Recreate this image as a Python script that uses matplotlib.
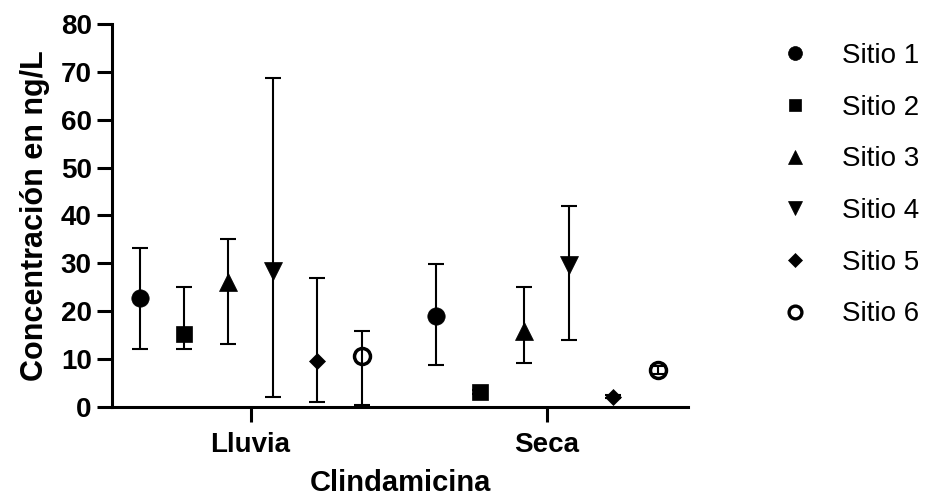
import matplotlib.pyplot as plt
from matplotlib.lines import Line2D
import numpy as np

plt.rcParams['font.family'] = ['Liberation Sans', 'DejaVu Sans']

# Clindamicina, concentración media con rango por sitio y temporada
sites = ["Sitio 1", "Sitio 2", "Sitio 3", "Sitio 4", "Sitio 5", "Sitio 6"]
seasons = ["Lluvia", "Seca"]

lluvia_mean = [22.8, 15.2, 26.1, 28.4, 9.6, 10.6]
lluvia_low = [12.1, 12.0, 13.1, 2.1, 1.0, 0.4]
lluvia_high = [33.2, 25.0, 35.0, 68.8, 26.9, 15.8]

seca_mean = [19.0, 3.1, 15.8, 29.6, 2.1, 7.7]
seca_low = [8.8, 2.6, 9.1, 14.0, 1.8, 6.8]
seca_high = [29.8, 3.6, 25.0, 42.0, 2.4, 8.6]

markers = ["o", "s", "^", "v", "D", "o"]
sizes = [12.5, 11.5, 12.5, 12.5, 8.5, 11.5]
filled = [True, True, True, True, True, False]

fig = plt.figure(figsize=(9.3, 5.04), dpi=100)
ax = fig.add_axes([0.1204, 0.193, 0.6194, 0.759])

means = np.array([lluvia_mean, seca_mean])
lows = np.array([lluvia_low, seca_low])
highs = np.array([lluvia_high, seca_high])

step = 0.15
offsets = (np.arange(len(sites)) - 2.5) * step
base = np.arange(len(seasons))

handles = []
for i, site in enumerate(sites):
    x = base + offsets[i]
    y = means[:, i]
    yerr = [y - lows[:, i], highs[:, i] - y]
    ax.errorbar(x, y, yerr=yerr, fmt="none", ecolor="black",
                elinewidth=1.5, capsize=5.5, capthick=1.5, zorder=2)
    face = "black" if filled[i] else "none"
    ax.plot(x, y, linestyle="none", marker=markers[i], markersize=sizes[i],
            markerfacecolor=face, markeredgecolor="black",
            markeredgewidth=0.5 if filled[i] else 2.5, zorder=3)
    handles.append(Line2D([], [], linestyle="none", marker=markers[i],
                          markersize=sizes[i] * 0.8,
                          markerfacecolor=face, markeredgecolor="black",
                          markeredgewidth=0.5 if filled[i] else 2.4))

ax.set_xlim(-0.468, 1.478)
ax.set_ylim(0, 80)
ax.set_yticks(np.arange(0, 81, 10))
ax.set_xticks(base)
ax.set_xticklabels(seasons)

for side in ["top", "right"]:
    ax.spines[side].set_visible(False)
for side in ["left", "bottom"]:
    ax.spines[side].set_linewidth(2.2)

ax.tick_params(axis="both", width=2.2, length=11, labelsize=20)
ax.tick_params(axis="y", pad=3.5)
ax.tick_params(axis="x", pad=7)
for lab in ax.get_xticklabels() + ax.get_yticklabels():
    lab.set_fontweight("bold")

ax.set_ylabel("Concentración en ng/L", fontsize=22, fontweight="bold", labelpad=8)
ax.set_xlabel("Clindamicina", fontsize=21, fontweight="bold", labelpad=8)

fig.legend(handles=handles, labels=sites, loc="upper left",
           bbox_to_anchor=(0.828, 0.937), frameon=False, fontsize=20,
           handlelength=1.0, handletextpad=1.19, labelspacing=0.925,
           borderaxespad=0)

fig.savefig("out.png", dpi=100)
